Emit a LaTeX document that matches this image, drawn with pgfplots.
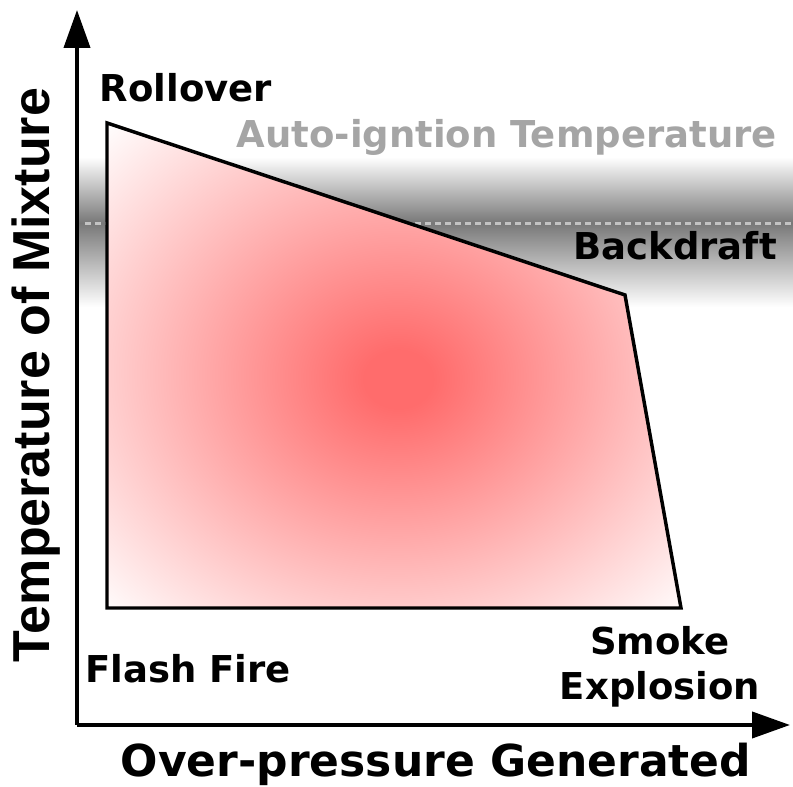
\documentclass[border=0pt]{standalone}
\usepackage{fontspec}
\setmainfont{DejaVu Sans}
\newfontfamily\lsans{Liberation Sans}
\usepackage{pgfplots}
\pgfplotsset{compat=1.18}
\usetikzlibrary{arrows.meta}
\definecolor{glowc}{RGB}{255,108,108}
\definecolor{bandc}{RGB}{120,120,120}
\definecolor{dashc}{RGB}{195,195,195}
\definecolor{autoc}{RGB}{165,165,165}
\pgfdeclareradialshading{redglow}{\pgfpoint{0.4bp}{-1.5bp}}{color(0bp)=(glowc); color(3bp)=(glowc); color(36bp)=(white); color(50bp)=(white)}
\pgfdeclareverticalshading{band}{100bp}{color(0bp)=(white); color(25bp)=(white); color(53bp)=(bandc); color(75bp)=(white); color(100bp)=(white)}
\begin{document}
\begin{tikzpicture}
\begin{axis}[
  scale only axis,
  width=534.75pt, height=536.25pt,
  xmin=77, xmax=790, ymin=62, ymax=777,
  axis lines=left,
  axis line style={line width=3pt},
  x axis line style={-{Triangle[length=28.5pt,width=19.5pt]}},
  y axis line style={-{Triangle[length=28.5pt,width=19.5pt]}},
  xtick=\empty, ytick=\empty,
  clip=false,
  axis on top=true,
]
% grey auto-ignition band
\addplot[draw=none, shade, shading=band] coordinates {(79,480) (793,480) (793,630) (79,630)} -- cycle;
\addplot[dashc, line width=2.25pt, dash pattern=on 4.5pt off 3pt] coordinates {(85,563) (793,563)};
% flammable region
\addplot[draw=black, line width=2.6pt, line join=miter, shade, shading=redglow] coordinates {(107,664) (625,492) (681,179) (107,179)} -- cycle;
% labels
\node[anchor=base, inner sep=0pt, font=\fontsize{27.75}{33}\selectfont\bfseries] at (axis cs:186,685) {Rollover};
\node[anchor=base east, inner sep=0pt, text=autoc, font=\fontsize{27.75}{33}\selectfont\bfseries] at (axis cs:777,639) {Auto-igntion Temperature};
\node[anchor=base east, inner sep=0pt, font=\fontsize{27.75}{33}\selectfont\bfseries] at (axis cs:777,527) {Backdraft};
\node[anchor=base west, inner sep=0pt, font=\fontsize{27.75}{33}\selectfont\bfseries] at (axis cs:85,104) {Flash Fire};
\node[anchor=base, inner sep=0pt, font=\fontsize{27.75}{33}\selectfont\bfseries] at (axis cs:660,132) {Smoke};
\node[anchor=base, inner sep=0pt, font=\fontsize{27.75}{33}\selectfont\bfseries] at (axis cs:660,87) {Explosion};
\node[anchor=base, inner sep=0pt, font=\fontsize{33}{40}\selectfont\bfseries] at (axis cs:436,10) {Over-pressure Generated};
\node[anchor=base, rotate=90, inner sep=0pt, font=\fontsize{39}{46}\selectfont\lsans\bfseries] at (axis cs:50,412) {Temperature of Mixture};
\coordinate (bl) at (axis cs:0,0);
\coordinate (tr) at (axis cs:793,787);
\end{axis}
\pgfresetboundingbox
\path[use as bounding box] (bl) rectangle (tr);
\end{tikzpicture}
\end{document}
